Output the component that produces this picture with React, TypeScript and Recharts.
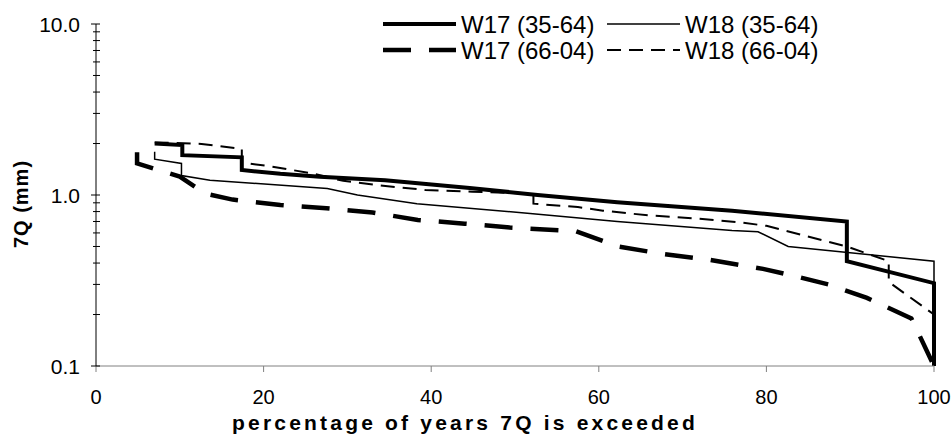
import React from 'react';
import { LineChart, Line, XAxis, YAxis, Legend, Label } from 'recharts';

type Pt = [number, number];

// percentage of years exceeded, 7Q (mm)
const W17_35_64: Pt[] = [
  [7.0, 2.0], [10.3, 1.96], [10.3, 1.71], [17.4, 1.66], [17.4, 1.4], [22, 1.33],
  [26.7, 1.28], [34.5, 1.22], [44.6, 1.1], [52.7, 1.0], [62.2, 0.906], [75.9, 0.81],
  [89.6, 0.7], [89.6, 0.41], [100, 0.305], [100, 0.1],
];
const W18_35_64: Pt[] = [
  [7.0, 1.79], [7.0, 1.62], [10.2, 1.53], [10.2, 1.3], [13.6, 1.22], [27.6, 1.09],
  [31.2, 1.0], [38.3, 0.89], [51.8, 0.78], [62.2, 0.7], [75.9, 0.62], [79.0, 0.61],
  [82.6, 0.5], [100, 0.41], [100, 0.31],
];
const W17_66_04: Pt[] = [
  [4.9, 1.78], [4.9, 1.53], [10.0, 1.28], [13.0, 1.02], [16.3, 0.94], [22.0, 0.874],
  [27.5, 0.836], [33.0, 0.79], [38.4, 0.715], [44.0, 0.68], [49.4, 0.645], [57.2, 0.615],
  [62.3, 0.5], [67.9, 0.45], [73.3, 0.417], [79.6, 0.37], [84.0, 0.33], [87.4, 0.3],
  [92.0, 0.25], [97.3, 0.19], [100, 0.1],
];
const W18_66_04: Pt[] = [
  [7.0, 2.03], [12.6, 1.99], [17.4, 1.86], [17.4, 1.55], [20.8, 1.47], [25.7, 1.34],
  [29.5, 1.21], [33.7, 1.14], [39.3, 1.07], [44.9, 1.045], [52.2, 1.02], [52.2, 0.89],
  [57.5, 0.85], [60.5, 0.81], [65.9, 0.76], [71.5, 0.73], [77.1, 0.69], [80.0, 0.66],
  [89.6, 0.5], [94.6, 0.41], [94.6, 0.31], [100, 0.2],
];

const SERIES_NAMES = ['W17 (35-64)', 'W18 (35-64)', 'W17 (66-04)', 'W18 (66-04)'];
const X_TICKS = [0, 20, 40, 60, 80, 100];
const Y_TICKS = [0.1, 0.2, 0.3, 0.4, 0.5, 0.6, 0.7, 0.8, 0.9, 1, 2, 3, 4, 5, 6, 7, 8, 9, 10];
const Y_MAJOR = [0.1, 1, 10];
const Y_MAJOR_LABELS = ['0.1', '1.0', '10.0'];
const X_TITLE = 'percentage of years 7Q is exceeded';
const Y_TITLE = '7Q (mm)';

const FONT = '"Liberation Sans", Arial, sans-serif';

const toRows = (pts: Pt[]) => pts.map(([x, y]) => ({ x, y }));

const STYLES = [
  { width: 4, dash: undefined as string | undefined },
  { width: 1.5, dash: undefined as string | undefined },
  { width: 4.5, dash: '28 18' },
  { width: 2, dash: '14 8' },
];
const DATA = [W17_35_64, W18_35_64, W17_66_04, W18_66_04];

const YTick = (props: any) => {
  const { x, y, payload } = props;
  const v = payload.value as number;
  const mi = Y_MAJOR.findIndex((m) => Math.abs(m - v) < 1e-9);
  const major = mi >= 0;
  return (
    <g>
      <line x1={x - (major ? 5 : 3)} x2={x + 4} y1={y} y2={y} stroke="#000" strokeWidth={1} />
      {major && (
        <text x={x - 16} y={y} dy="0.36em" textAnchor="end" fontSize={21} fontFamily={FONT} fill="#000">
          {Y_MAJOR_LABELS[mi]}
        </text>
      )}
    </g>
  );
};

const LegendContent = () => {
  const cols = [
    { lx1: 383, lx2: 456, tx: 461 },
    { lx1: 607, lx2: 680, tx: 685 },
  ];
  const rows = [24, 50];
  const items = [
    { r: 0, c: 0, s: 0 },
    { r: 0, c: 1, s: 1 },
    { r: 1, c: 0, s: 2 },
    { r: 1, c: 1, s: 3 },
  ];
  return (
    <svg width={951} height={80} style={{ display: 'block' }}>
      {items.map((it, i) => {
        const c = cols[it.c];
        const y = rows[it.r];
        const st = STYLES[it.s];
        return (
          <g key={i}>
            <line x1={c.lx1} x2={c.lx2} y1={y} y2={y} stroke="#000" strokeWidth={st.width} strokeDasharray={st.dash} />
            <text x={c.tx} y={y} dy="0.36em" fontSize={24} fontFamily={FONT} fill="#000">
              {SERIES_NAMES[it.s]}
            </text>
          </g>
        );
      })}
    </svg>
  );
};

export default function App() {
  return (
    <div style={{ position: 'absolute', left: 0, top: 0, background: '#fff' }}>
      <LineChart width={951} height={440} margin={{ top: 24, right: 17, bottom: 0, left: 0 }}>
        <XAxis
          type="number"
          dataKey="x"
          domain={[0, 100]}
          ticks={X_TICKS}
          interval={0}
          height={74}
          stroke="#808080"
          tickSize={6}
          tickMargin={18}
          tick={{ fill: '#000', fontSize: 20, fontFamily: FONT }}
        >
          <Label
            content={() => (
              <text x={465} y={430} textAnchor="middle" fontSize={21} fontWeight="bold" letterSpacing={3.2} fontFamily={FONT} fill="#000">
                {X_TITLE}
              </text>
            )}
          />
        </XAxis>
        <YAxis
          type="number"
          scale="log"
          domain={[0.1, 10]}
          allowDataOverflow
          ticks={Y_TICKS}
          interval={0}
          width={96}
          stroke="#000"
          tickLine={false}
          tickSize={0}
          tickMargin={0}
          tick={<YTick />}
        >
          <Label
            content={() => (
              <text x={28} y={204} transform="rotate(-90 28 204)" textAnchor="middle" fontSize={20} fontWeight="bold" letterSpacing={1} fontFamily={FONT} fill="#000">
                {Y_TITLE}
              </text>
            )}
          />
        </YAxis>
        <Legend
          layout="horizontal"
          verticalAlign="middle"
          align="center"
          wrapperStyle={{ left: 0, top: 0, width: 951, height: 80 }}
          content={<LegendContent />}
        />
        {DATA.map((d, i) => (
          <Line
            key={SERIES_NAMES[i]}
            name={SERIES_NAMES[i]}
            data={toRows(d)}
            dataKey="y"
            type="linear"
            stroke="#000"
            strokeWidth={STYLES[i].width}
            strokeDasharray={STYLES[i].dash}
            dot={false}
            activeDot={false}
            isAnimationActive={false}
          />
        ))}
      </LineChart>
    </div>
  );
}
